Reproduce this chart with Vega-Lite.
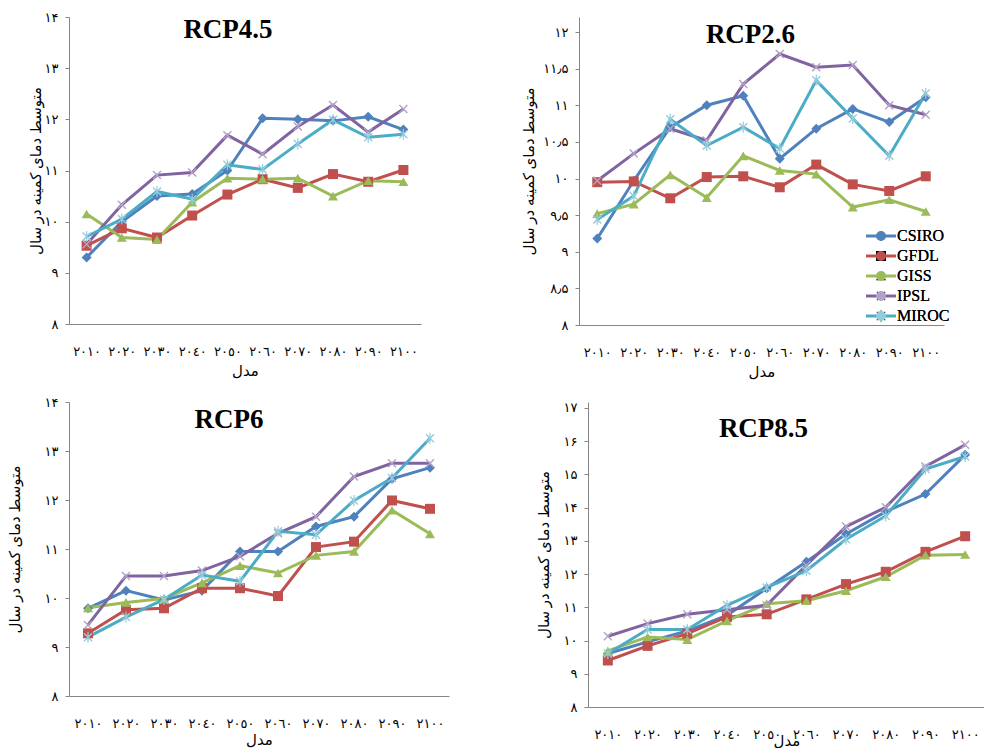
{
  "$schema": "https://vega.github.io/schema/vega-lite/v6.json",
  "padding": {"left": 7, "top": 11, "right": 0, "bottom": 0},
  "background": "white",
  "config": {
    "view": {"stroke": null},
    "font": "Liberation Serif",
    "axis": {"grid": false, "domainColor": "#868686", "tickColor": "#868686", "labelFont": "Liberation Serif, DejaVu Sans", "labelFontSize": 13, "labelColor": "black", "titleFont": "Liberation Serif, DejaVu Sans", "titleFontSize": 15, "titleFontWeight": "normal", "titleColor": "black", "labelOverlap": false, "labelFlush": false},
    "axisX": {"ticks": false, "labelPadding": 21, "labelAngle": 0, "titlePadding": 5,
      "labelExpr": "replace(replace(replace(replace(replace(replace(replace(replace(replace(replace(''+datum.value,regexp('0','g'),'٠'),regexp('1','g'),'١'),regexp('2','g'),'٢'),regexp('3','g'),'٣'),regexp('4','g'),'٤'),regexp('5','g'),'٥'),regexp('6','g'),'٦'),regexp('7','g'),'٧'),regexp('8','g'),'٨'),regexp('9','g'),'٩')"},
    "axisY": {"tickSize": 4, "labelPadding": 7,
      "labelExpr": "replace(replace(replace(replace(replace(replace(replace(replace(replace(replace(replace(''+datum.value,regexp('[.]','g'),'٫'),regexp('0','g'),'۰'),regexp('1','g'),'۱'),regexp('2','g'),'۲'),regexp('3','g'),'۳'),regexp('4','g'),'۴'),regexp('5','g'),'۵'),regexp('6','g'),'۶'),regexp('7','g'),'۷'),regexp('8','g'),'۸'),regexp('9','g'),'۹')"},
    "legend": {"labelFont": "Liberation Serif", "labelFontSize": 16, "labelColor": "black"},
    "title": {"font": "Liberation Serif", "fontSize": 27, "fontWeight": "bold", "color": "black", "frame": "group", "anchor": "middle", "baseline": "alphabetic"},
    "line": {"strokeWidth": 3},
    "point": {"size": 100, "opacity": 1, "filled": true}
  },
  "datasets": {
    "rcp45": [
      {"year": 2010, "model": "CSIRO", "t": 9.30}, {"year": 2020, "model": "CSIRO", "t": 10.0}, {"year": 2030, "model": "CSIRO", "t": 10.5}, {"year": 2040, "model": "CSIRO", "t": 10.54}, {"year": 2050, "model": "CSIRO", "t": 11.0}, {"year": 2060, "model": "CSIRO", "t": 12.02}, {"year": 2070, "model": "CSIRO", "t": 12.0}, {"year": 2080, "model": "CSIRO", "t": 11.97}, {"year": 2090, "model": "CSIRO", "t": 12.05}, {"year": 2100, "model": "CSIRO", "t": 11.8},
      {"year": 2010, "model": "GFDL", "t": 9.53}, {"year": 2020, "model": "GFDL", "t": 9.87}, {"year": 2030, "model": "GFDL", "t": 9.69}, {"year": 2040, "model": "GFDL", "t": 10.12}, {"year": 2050, "model": "GFDL", "t": 10.53}, {"year": 2060, "model": "GFDL", "t": 10.83}, {"year": 2070, "model": "GFDL", "t": 10.66}, {"year": 2080, "model": "GFDL", "t": 10.93}, {"year": 2090, "model": "GFDL", "t": 10.78}, {"year": 2100, "model": "GFDL", "t": 11.01},
      {"year": 2010, "model": "GISS", "t": 10.15}, {"year": 2020, "model": "GISS", "t": 9.69}, {"year": 2030, "model": "GISS", "t": 9.65}, {"year": 2040, "model": "GISS", "t": 10.38}, {"year": 2050, "model": "GISS", "t": 10.85}, {"year": 2060, "model": "GISS", "t": 10.83}, {"year": 2070, "model": "GISS", "t": 10.85}, {"year": 2080, "model": "GISS", "t": 10.5}, {"year": 2090, "model": "GISS", "t": 10.8}, {"year": 2100, "model": "GISS", "t": 10.78},
      {"year": 2010, "model": "IPSL", "t": 9.56}, {"year": 2020, "model": "IPSL", "t": 10.33}, {"year": 2030, "model": "IPSL", "t": 10.91}, {"year": 2040, "model": "IPSL", "t": 10.96}, {"year": 2050, "model": "IPSL", "t": 11.69}, {"year": 2060, "model": "IPSL", "t": 11.32}, {"year": 2070, "model": "IPSL", "t": 11.86}, {"year": 2080, "model": "IPSL", "t": 12.28}, {"year": 2090, "model": "IPSL", "t": 11.75}, {"year": 2100, "model": "IPSL", "t": 12.2},
      {"year": 2010, "model": "MIROC", "t": 9.71}, {"year": 2020, "model": "MIROC", "t": 10.05}, {"year": 2030, "model": "MIROC", "t": 10.59}, {"year": 2040, "model": "MIROC", "t": 10.44}, {"year": 2050, "model": "MIROC", "t": 11.11}, {"year": 2060, "model": "MIROC", "t": 11.02}, {"year": 2070, "model": "MIROC", "t": 11.52}, {"year": 2080, "model": "MIROC", "t": 11.99}, {"year": 2090, "model": "MIROC", "t": 11.65}, {"year": 2100, "model": "MIROC", "t": 11.71}
    ],
    "rcp26": [
      {"year": 2010, "model": "CSIRO", "t": 9.18}, {"year": 2020, "model": "CSIRO", "t": 9.97}, {"year": 2030, "model": "CSIRO", "t": 10.70}, {"year": 2040, "model": "CSIRO", "t": 11.0}, {"year": 2050, "model": "CSIRO", "t": 11.13}, {"year": 2060, "model": "CSIRO", "t": 10.27}, {"year": 2070, "model": "CSIRO", "t": 10.68}, {"year": 2080, "model": "CSIRO", "t": 10.95}, {"year": 2090, "model": "CSIRO", "t": 10.77}, {"year": 2100, "model": "CSIRO", "t": 11.11},
      {"year": 2010, "model": "GFDL", "t": 9.95}, {"year": 2020, "model": "GFDL", "t": 9.96}, {"year": 2030, "model": "GFDL", "t": 9.73}, {"year": 2040, "model": "GFDL", "t": 10.02}, {"year": 2050, "model": "GFDL", "t": 10.03}, {"year": 2060, "model": "GFDL", "t": 9.88}, {"year": 2070, "model": "GFDL", "t": 10.19}, {"year": 2080, "model": "GFDL", "t": 9.92}, {"year": 2090, "model": "GFDL", "t": 9.83}, {"year": 2100, "model": "GFDL", "t": 10.03},
      {"year": 2010, "model": "GISS", "t": 9.52}, {"year": 2020, "model": "GISS", "t": 9.65}, {"year": 2030, "model": "GISS", "t": 10.05}, {"year": 2040, "model": "GISS", "t": 9.74}, {"year": 2050, "model": "GISS", "t": 10.31}, {"year": 2060, "model": "GISS", "t": 10.11}, {"year": 2070, "model": "GISS", "t": 10.06}, {"year": 2080, "model": "GISS", "t": 9.61}, {"year": 2090, "model": "GISS", "t": 9.71}, {"year": 2100, "model": "GISS", "t": 9.55},
      {"year": 2010, "model": "IPSL", "t": 9.97}, {"year": 2020, "model": "IPSL", "t": 10.34}, {"year": 2030, "model": "IPSL", "t": 10.68}, {"year": 2040, "model": "IPSL", "t": 10.52}, {"year": 2050, "model": "IPSL", "t": 11.29}, {"year": 2060, "model": "IPSL", "t": 11.70}, {"year": 2070, "model": "IPSL", "t": 11.52}, {"year": 2080, "model": "IPSL", "t": 11.55}, {"year": 2090, "model": "IPSL", "t": 11.0}, {"year": 2100, "model": "IPSL", "t": 10.87},
      {"year": 2010, "model": "MIROC", "t": 9.44}, {"year": 2020, "model": "MIROC", "t": 9.76}, {"year": 2030, "model": "MIROC", "t": 10.81}, {"year": 2040, "model": "MIROC", "t": 10.45}, {"year": 2050, "model": "MIROC", "t": 10.70}, {"year": 2060, "model": "MIROC", "t": 10.41}, {"year": 2070, "model": "MIROC", "t": 11.34}, {"year": 2080, "model": "MIROC", "t": 10.82}, {"year": 2090, "model": "MIROC", "t": 10.31}, {"year": 2100, "model": "MIROC", "t": 11.16}
    ],
    "rcp6": [
      {"year": 2010, "model": "CSIRO", "t": 9.79}, {"year": 2020, "model": "CSIRO", "t": 10.15}, {"year": 2030, "model": "CSIRO", "t": 9.96}, {"year": 2040, "model": "CSIRO", "t": 10.15}, {"year": 2050, "model": "CSIRO", "t": 10.95}, {"year": 2060, "model": "CSIRO", "t": 10.95}, {"year": 2070, "model": "CSIRO", "t": 11.46}, {"year": 2080, "model": "CSIRO", "t": 11.66}, {"year": 2090, "model": "CSIRO", "t": 12.43}, {"year": 2100, "model": "CSIRO", "t": 12.66},
      {"year": 2010, "model": "GFDL", "t": 9.28}, {"year": 2020, "model": "GFDL", "t": 9.76}, {"year": 2030, "model": "GFDL", "t": 9.79}, {"year": 2040, "model": "GFDL", "t": 10.2}, {"year": 2050, "model": "GFDL", "t": 10.2}, {"year": 2060, "model": "GFDL", "t": 10.04}, {"year": 2070, "model": "GFDL", "t": 11.04}, {"year": 2080, "model": "GFDL", "t": 11.15}, {"year": 2090, "model": "GFDL", "t": 11.99}, {"year": 2100, "model": "GFDL", "t": 11.82},
      {"year": 2010, "model": "GISS", "t": 9.80}, {"year": 2020, "model": "GISS", "t": 9.91}, {"year": 2030, "model": "GISS", "t": 9.99}, {"year": 2040, "model": "GISS", "t": 10.31}, {"year": 2050, "model": "GISS", "t": 10.66}, {"year": 2060, "model": "GISS", "t": 10.51}, {"year": 2070, "model": "GISS", "t": 10.87}, {"year": 2080, "model": "GISS", "t": 10.95}, {"year": 2090, "model": "GISS", "t": 11.79}, {"year": 2100, "model": "GISS", "t": 11.31},
      {"year": 2010, "model": "IPSL", "t": 9.45}, {"year": 2020, "model": "IPSL", "t": 10.45}, {"year": 2030, "model": "IPSL", "t": 10.45}, {"year": 2040, "model": "IPSL", "t": 10.56}, {"year": 2050, "model": "IPSL", "t": 10.85}, {"year": 2060, "model": "IPSL", "t": 11.32}, {"year": 2070, "model": "IPSL", "t": 11.66}, {"year": 2080, "model": "IPSL", "t": 12.48}, {"year": 2090, "model": "IPSL", "t": 12.75}, {"year": 2100, "model": "IPSL", "t": 12.75},
      {"year": 2010, "model": "MIROC", "t": 9.20}, {"year": 2020, "model": "MIROC", "t": 9.61}, {"year": 2030, "model": "MIROC", "t": 9.97}, {"year": 2040, "model": "MIROC", "t": 10.47}, {"year": 2050, "model": "MIROC", "t": 10.34}, {"year": 2060, "model": "MIROC", "t": 11.36}, {"year": 2070, "model": "MIROC", "t": 11.29}, {"year": 2080, "model": "MIROC", "t": 11.99}, {"year": 2090, "model": "MIROC", "t": 12.45}, {"year": 2100, "model": "MIROC", "t": 13.26}
    ],
    "rcp85": [
      {"year": 2010, "model": "CSIRO", "t": 9.61}, {"year": 2020, "model": "CSIRO", "t": 9.96}, {"year": 2030, "model": "CSIRO", "t": 10.29}, {"year": 2040, "model": "CSIRO", "t": 10.76}, {"year": 2050, "model": "CSIRO", "t": 11.57}, {"year": 2060, "model": "CSIRO", "t": 12.37}, {"year": 2070, "model": "CSIRO", "t": 13.21}, {"year": 2080, "model": "CSIRO", "t": 13.88}, {"year": 2090, "model": "CSIRO", "t": 14.41}, {"year": 2100, "model": "CSIRO", "t": 15.59},
      {"year": 2010, "model": "GFDL", "t": 9.40}, {"year": 2020, "model": "GFDL", "t": 9.84}, {"year": 2030, "model": "GFDL", "t": 10.21}, {"year": 2040, "model": "GFDL", "t": 10.71}, {"year": 2050, "model": "GFDL", "t": 10.79}, {"year": 2060, "model": "GFDL", "t": 11.24}, {"year": 2070, "model": "GFDL", "t": 11.70}, {"year": 2080, "model": "GFDL", "t": 12.07}, {"year": 2090, "model": "GFDL", "t": 12.67}, {"year": 2100, "model": "GFDL", "t": 13.14},
      {"year": 2010, "model": "GISS", "t": 9.69}, {"year": 2020, "model": "GISS", "t": 10.11}, {"year": 2030, "model": "GISS", "t": 10.03}, {"year": 2040, "model": "GISS", "t": 10.59}, {"year": 2050, "model": "GISS", "t": 11.11}, {"year": 2060, "model": "GISS", "t": 11.20}, {"year": 2070, "model": "GISS", "t": 11.50}, {"year": 2080, "model": "GISS", "t": 11.92}, {"year": 2090, "model": "GISS", "t": 12.57}, {"year": 2100, "model": "GISS", "t": 12.59},
      {"year": 2010, "model": "IPSL", "t": 10.13}, {"year": 2020, "model": "IPSL", "t": 10.51}, {"year": 2030, "model": "IPSL", "t": 10.79}, {"year": 2040, "model": "IPSL", "t": 10.93}, {"year": 2050, "model": "IPSL", "t": 11.06}, {"year": 2060, "model": "IPSL", "t": 12.27}, {"year": 2070, "model": "IPSL", "t": 13.43}, {"year": 2080, "model": "IPSL", "t": 14.01}, {"year": 2090, "model": "IPSL", "t": 15.24}, {"year": 2100, "model": "IPSL", "t": 15.89},
      {"year": 2010, "model": "MIROC", "t": 9.61}, {"year": 2020, "model": "MIROC", "t": 10.33}, {"year": 2030, "model": "MIROC", "t": 10.33}, {"year": 2040, "model": "MIROC", "t": 11.06}, {"year": 2050, "model": "MIROC", "t": 11.60}, {"year": 2060, "model": "MIROC", "t": 12.10}, {"year": 2070, "model": "MIROC", "t": 13.05}, {"year": 2080, "model": "MIROC", "t": 13.75}, {"year": 2090, "model": "MIROC", "t": 15.16}, {"year": 2100, "model": "MIROC", "t": 15.54}
    ]
  },
  "resolve": {"scale": {"color": "independent", "shape": "independent"}, "legend": {"color": "independent", "shape": "independent"}},
  "spacing": 17,
  "vconcat": [
    {
      "hconcat": [
        {
          "width": 352, "height": 307,
          "data": {"name": "rcp45"},
          "title": {"text": "RCP4.5", "offset": -33, "dx": -17},
          "encoding": {
            "x": {"field": "year", "type": "ordinal", "scale": {"type": "point", "padding": 0.5}, "axis": {"title": "مدل"}},
            "y": {"field": "t", "type": "quantitative", "scale": {"domain": [8, 14], "nice": false, "zero": false}, "axis": {"values": [8, 9, 10, 11, 12, 13, 14], "title": "متوسط دمای کمینه در سال", "titlePadding": 1}}
          },
          "layer": [
            {"mark": {"type": "line"}, "encoding": {"color": {"field": "model", "type": "nominal", "scale": {"range": ["#4f81bd", "#c0504d", "#9bbb59", "#8064a2", "#4bacc6"]}, "legend": null}}},
            {"mark": {"type": "point"}, "encoding": {
              "color": {"field": "model", "type": "nominal", "scale": {"domain": ["CSIRO", "GFDL", "GISS", "IPSL", "MIROC"], "range": ["#4f81bd", "#c0504d", "#9bbb59", "#b3a2c7", "#93cddd"]}, "legend": null},
              "shape": {"field": "model", "type": "nominal", "scale": {"domain": ["CSIRO", "GFDL", "GISS", "IPSL", "MIROC"], "range": ["diamond", "square", "triangle-up", "M-0.9,-0.7L-0.7,-0.9L0,-0.2L0.7,-0.9L0.9,-0.7L0.2,0L0.9,0.7L0.7,0.9L0,0.2L-0.7,0.9L-0.9,0.7L-0.2,0Z", "M-0.9,-0.7L-0.7,-0.9L0,-0.2L0.7,-0.9L0.9,-0.7L0.2,0L0.9,0.7L0.7,0.9L0,0.2L-0.7,0.9L-0.9,0.7L-0.2,0ZM-0.12,-1.1L0.12,-1.1L0.12,1.1L-0.12,1.1Z"]}, "legend": null}
            }}
          ],
          "resolve": {"scale": {"color": "independent"}, "legend": {"color": "independent"}}
        },
        {
          "width": 365, "height": 308,
          "data": {"name": "rcp26"},
          "title": {"text": "RCP2.6", "offset": -32, "dx": -11},
          "encoding": {
            "x": {"field": "year", "type": "ordinal", "scale": {"type": "point", "padding": 0.5}, "axis": {"title": "مدل"}},
            "y": {"field": "t", "type": "quantitative", "scale": {"domain": [8, 12.205], "nice": false, "zero": false}, "axis": {"values": [8, 8.5, 9, 9.5, 10, 10.5, 11, 11.5, 12], "title": "متوسط دمای کمینه در سال", "titlePadding": 6}}
          },
          "layer": [
            {"mark": {"type": "line"}, "encoding": {"color": {"field": "model", "type": "nominal", "scale": {"range": ["#4f81bd", "#c0504d", "#9bbb59", "#8064a2", "#4bacc6"]},
              "legend": {"orient": "none", "legendX": 284, "legendY": 211, "title": null, "symbolType": "M-3,0L3,0", "symbolSize": 100, "symbolStrokeWidth": 3, "symbolOffset": 10, "labelOffset": 8, "rowPadding": 4, "padding": 0, "labelOpacity": 0, "labelColor": "transparent"}}}},
            {"mark": {"type": "point"}, "encoding": {
              "color": {"field": "model", "type": "nominal", "scale": {"domain": ["CSIRO", "GFDL", "GISS", "IPSL", "MIROC"], "range": ["#4f81bd", "#c0504d", "#9bbb59", "#b3a2c7", "#93cddd"]},
                "legend": {"orient": "none", "legendX": 284, "legendY": 211, "title": null, "symbolSize": 100, "symbolStrokeWidth": 0, "symbolOffset": 10, "labelOffset": 8, "rowPadding": 4, "padding": 0}},
              "shape": {"field": "model", "type": "nominal", "scale": {"domain": ["CSIRO", "GFDL", "GISS", "IPSL", "MIROC"], "range": ["diamond", "square", "triangle-up", "M-0.9,-0.7L-0.7,-0.9L0,-0.2L0.7,-0.9L0.9,-0.7L0.2,0L0.9,0.7L0.7,0.9L0,0.2L-0.7,0.9L-0.9,0.7L-0.2,0Z", "M-0.9,-0.7L-0.7,-0.9L0,-0.2L0.7,-0.9L0.9,-0.7L0.2,0L0.9,0.7L0.7,0.9L0,0.2L-0.7,0.9L-0.9,0.7L-0.2,0ZM-0.12,-1.1L0.12,-1.1L0.12,1.1L-0.12,1.1Z"]},
                "legend": {"orient": "none", "legendX": 284, "legendY": 211, "title": null, "symbolSize": 100, "symbolStrokeWidth": 0, "symbolOffset": 10, "labelOffset": 8, "rowPadding": 4, "padding": 0}}
            }}
          ],
          "resolve": {"scale": {"color": "independent"}, "legend": {"color": "independent"}}
        }
      ],
      "spacing": 158,
      "bounds": "flush",
      "resolve": {"scale": {"color": "independent", "shape": "independent"}, "legend": {"color": "independent", "shape": "independent"}}
    },
    {
      "hconcat": [
        {
          "width": 380, "height": 294,
          "data": {"name": "rcp6"},
          "title": {"text": "RCP6", "offset": -38, "dx": -30},
          "encoding": {
            "x": {"field": "year", "type": "ordinal", "scale": {"type": "point", "padding": 0.5}, "axis": {"title": "مدل", "titlePadding": 2}},
            "y": {"field": "t", "type": "quantitative", "scale": {"domain": [8, 14], "nice": false, "zero": false}, "axis": {"values": [8, 9, 10, 11, 12, 13, 14], "title": "متوسط دمای کمینه در سال", "titlePadding": 22}}
          },
          "layer": [
            {"mark": {"type": "line"}, "encoding": {"color": {"field": "model", "type": "nominal", "scale": {"range": ["#4f81bd", "#c0504d", "#9bbb59", "#8064a2", "#4bacc6"]}, "legend": null}}},
            {"mark": {"type": "point"}, "encoding": {
              "color": {"field": "model", "type": "nominal", "scale": {"domain": ["CSIRO", "GFDL", "GISS", "IPSL", "MIROC"], "range": ["#4f81bd", "#c0504d", "#9bbb59", "#b3a2c7", "#93cddd"]}, "legend": null},
              "shape": {"field": "model", "type": "nominal", "scale": {"domain": ["CSIRO", "GFDL", "GISS", "IPSL", "MIROC"], "range": ["diamond", "square", "triangle-up", "M-0.9,-0.7L-0.7,-0.9L0,-0.2L0.7,-0.9L0.9,-0.7L0.2,0L0.9,0.7L0.7,0.9L0,0.2L-0.7,0.9L-0.9,0.7L-0.2,0Z", "M-0.9,-0.7L-0.7,-0.9L0,-0.2L0.7,-0.9L0.9,-0.7L0.2,0L0.9,0.7L0.7,0.9L0,0.2L-0.7,0.9L-0.9,0.7L-0.2,0ZM-0.12,-1.1L0.12,-1.1L0.12,1.1L-0.12,1.1Z"]}, "legend": null}
            }}
          ],
          "resolve": {"scale": {"color": "independent"}, "legend": {"color": "independent"}}
        },
        {
          "width": 397, "height": 305,
          "data": {"name": "rcp85"},
          "title": {"text": "RCP8.5", "offset": -41, "dx": -23},
          "encoding": {
            "x": {"field": "year", "type": "ordinal", "scale": {"type": "point", "padding": 0.5}, "axis": {"title": "مدل", "titlePadding": -8}},
            "y": {"field": "t", "type": "quantitative", "scale": {"domain": [8, 17.18], "nice": false, "zero": false}, "axis": {"values": [8, 9, 10, 11, 12, 13, 14, 15, 16, 17], "title": "متوسط دمای کمینه در سال", "titlePadding": 12}}
          },
          "layer": [
            {"mark": {"type": "line"}, "encoding": {"color": {"field": "model", "type": "nominal", "scale": {"range": ["#4f81bd", "#c0504d", "#9bbb59", "#8064a2", "#4bacc6"]}, "legend": null}}},
            {"mark": {"type": "point"}, "encoding": {
              "color": {"field": "model", "type": "nominal", "scale": {"domain": ["CSIRO", "GFDL", "GISS", "IPSL", "MIROC"], "range": ["#4f81bd", "#c0504d", "#9bbb59", "#b3a2c7", "#93cddd"]}, "legend": null},
              "shape": {"field": "model", "type": "nominal", "scale": {"domain": ["CSIRO", "GFDL", "GISS", "IPSL", "MIROC"], "range": ["diamond", "square", "triangle-up", "M-0.9,-0.7L-0.7,-0.9L0,-0.2L0.7,-0.9L0.9,-0.7L0.2,0L0.9,0.7L0.7,0.9L0,0.2L-0.7,0.9L-0.9,0.7L-0.2,0Z", "M-0.9,-0.7L-0.7,-0.9L0,-0.2L0.7,-0.9L0.9,-0.7L0.2,0L0.9,0.7L0.7,0.9L0,0.2L-0.7,0.9L-0.9,0.7L-0.2,0ZM-0.12,-1.1L0.12,-1.1L0.12,1.1L-0.12,1.1Z"]}, "legend": null}
            }}
          ],
          "resolve": {"scale": {"color": "independent"}, "legend": {"color": "independent"}}
        }
      ],
      "spacing": 139,
      "bounds": "flush",
      "resolve": {"scale": {"color": "independent", "shape": "independent"}, "legend": {"color": "independent", "shape": "independent"}}
    }
  ]
}
